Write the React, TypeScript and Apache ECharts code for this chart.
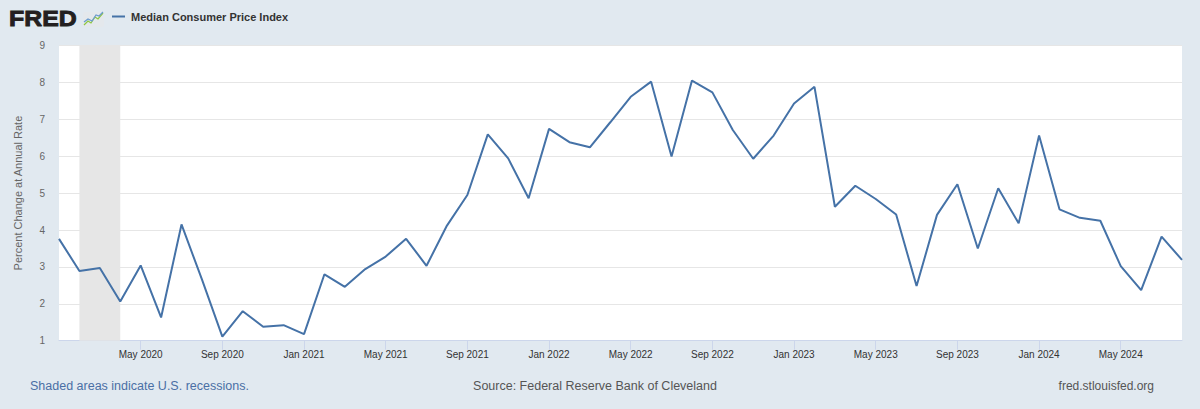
import React, { useEffect, useRef } from "react";
import * as echarts from "echarts";

const months: string[] = [
  "Jan 2020", "Feb 2020", "Mar 2020", "Apr 2020", "May 2020", "Jun 2020", "Jul 2020", "Aug 2020", "Sep 2020", "Oct 2020", "Nov 2020", "Dec 2020",
  "Jan 2021", "Feb 2021", "Mar 2021", "Apr 2021", "May 2021", "Jun 2021", "Jul 2021", "Aug 2021", "Sep 2021", "Oct 2021", "Nov 2021", "Dec 2021",
  "Jan 2022", "Feb 2022", "Mar 2022", "Apr 2022", "May 2022", "Jun 2022", "Jul 2022", "Aug 2022", "Sep 2022", "Oct 2022", "Nov 2022", "Dec 2022",
  "Jan 2023", "Feb 2023", "Mar 2023", "Apr 2023", "May 2023", "Jun 2023", "Jul 2023", "Aug 2023", "Sep 2023", "Oct 2023", "Nov 2023", "Dec 2023",
  "Jan 2024", "Feb 2024", "Mar 2024", "Apr 2024", "May 2024", "Jun 2024", "Jul 2024", "Aug 2024",
];

const medianCpi: number[] = [
  3.76, 2.89, 2.97, 2.06, 3.04, 1.63, 4.15, 2.66, 1.11, 1.8, 1.38, 1.42,
  1.18, 2.8, 2.46, 2.94, 3.28, 3.76, 3.03, 4.12, 4.95, 6.59, 5.94, 4.86,
  6.74, 6.38, 6.24, 6.92, 7.61, 8.02, 5.99, 8.05, 7.73, 6.71, 5.93, 6.56,
  7.43, 7.88, 4.63, 5.2, 4.84, 4.42, 2.48, 4.41, 5.24, 3.5, 5.13, 4.18,
  6.56, 4.56, 4.33, 4.25, 3.02, 2.37, 3.82, 3.19,
];

const recessionStart = "Feb 2020";
const recessionEnd = "Apr 2020";

const seriesName = "Median Consumer Price Index";
const yAxisTitle = "Percent Change at Annual Rate";
const yMin = 1;
const yMax = 9;
const yStep = 1;

const noteText = "Shaded areas indicate U.S. recessions.";
const sourceText = "Source: Federal Reserve Bank of Cleveland";
const siteText = "fred.stlouisfed.org";

const FONT = "'Liberation Sans', Arial, Helvetica, sans-serif";

export default function App() {
  const ref = useRef<HTMLDivElement>(null);

  useEffect(() => {
    if (!ref.current) return;
    const chart = echarts.init(ref.current, null, { renderer: "svg" });
    const showLabel = (i: number) => i > 0 && i % 4 === 0;

    chart.setOption({
      animation: false,
      backgroundColor: "#e1e9f0",
      textStyle: { fontFamily: FONT },
      legend: {
        left: 112,
        top: 11,
        padding: 0,
        icon: "rect",
        itemWidth: 13,
        itemHeight: 2,
        itemGap: 10,
        textStyle: { fontSize: 11, fontWeight: "bold", color: "#333", fontFamily: FONT, padding: [0, 0, 0, 1] },
        data: [seriesName],
      },
      grid: {
        left: 59,
        right: 18,
        top: 45.5,
        bottom: 68.3,
        show: true,
        backgroundColor: "#ffffff",
        borderWidth: 0,
      },
      xAxis: {
        type: "category",
        data: months,
        boundaryGap: false,
        axisLine: { show: true, lineStyle: { color: "#ccd6eb", width: 1 } },
        axisTick: {
          show: true,
          interval: (i: number) => showLabel(i),
          length: 9,
          lineStyle: { color: "#ccd6eb" },
        },
        axisLabel: {
          interval: (i: number) => showLabel(i),
          fontSize: 10,
          color: "#333",
          margin: 9,
          fontFamily: FONT,
        },
        splitLine: { show: false },
      },
      yAxis: {
        type: "value",
        min: yMin,
        max: yMax,
        interval: yStep,
        name: yAxisTitle,
        nameLocation: "middle",
        nameGap: 36,
        nameTextStyle: { fontSize: 11, color: "#666", fontFamily: FONT },
        axisLine: { show: false },
        axisTick: { show: false },
        axisLabel: {
          fontSize: 10,
          color: "#666",
          margin: 14,
          padding: [0, 0, 10, 0],
          fontFamily: FONT,
        },
        splitLine: { show: true, lineStyle: { color: "#e6e6e6", width: 1 } },
      },
      series: [
        {
          name: seriesName,
          type: "line",
          data: medianCpi,
          showSymbol: false,
          symbol: "none",
          color: "#4572a7",
          lineStyle: { color: "#4572a7", width: 2 },
          markArea: {
            silent: true,
            itemStyle: { color: "#e6e6e6" },
            data: [[{ xAxis: recessionStart }, { xAxis: recessionEnd }]],
          },
        },
      ],
      graphic: [
        {
          type: "text",
          x: 9,
          y: 7,
          scaleX: 1.13,
          style: {
            x: 0,
            y: 0,
            text: "FRED",
            fontSize: 22,
            fontWeight: "bold",
            fontFamily: FONT,
            fill: "#231f20",
            stroke: "#231f20",
            lineWidth: 0.9,
            verticalAlign: "top",
          },
        },
        {
          type: "rect",
          shape: { x: 83, y: 12, width: 21, height: 15, r: 2 },
          style: { fill: "#e4e8ec" },
        },
        {
          type: "polyline",
          shape: { points: [[84, 25], [88, 21], [91, 23], [95, 17], [98, 19], [103, 13]] },
          style: { stroke: "#8dc63f", lineWidth: 1.2, fill: "none" },
        },
        {
          type: "polyline",
          shape: { points: [[84, 22], [88, 19], [92, 21], [96, 15], [99, 16], [103, 12]] },
          style: { stroke: "#6a9bcf", lineWidth: 1.2, fill: "none" },
        },
        {
          type: "text",
          left: 30,
          top: 379,
          style: { text: noteText, fontSize: 12.5, fill: "#4a6fa5", fontFamily: FONT },
        },
        {
          type: "text",
          x: 595,
          y: 386,
          style: {
            text: sourceText,
            fontSize: 12.5,
            fill: "#555",
            fontFamily: FONT,
            align: "center",
            verticalAlign: "middle",
          },
        },
        {
          type: "text",
          x: 1154,
          y: 386,
          style: {
            text: siteText,
            fontSize: 12,
            fill: "#555",
            fontFamily: FONT,
            align: "right",
            verticalAlign: "middle",
          },
        },
      ],
    });

    return () => chart.dispose();
  }, []);

  return (
    <div
      ref={ref}
      style={{ position: "absolute", left: 0, top: 0, width: 1200, height: 409 }}
    />
  );
}
